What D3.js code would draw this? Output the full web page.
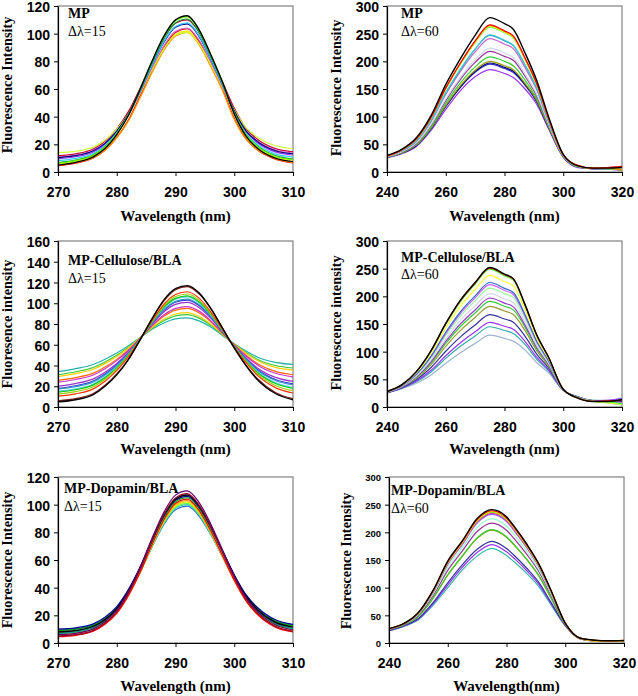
<!DOCTYPE html>
<html>
<head>
<meta charset="utf-8">
<script src="https://cdn.jsdelivr.net/npm/d3@7"></script>
<style>
html,body{margin:0;padding:0;background:#fff;}
svg{display:block;}
.tick text{font-family:"Liberation Sans",Arial,sans-serif;font-weight:bold;}
</style>
</head>
<body>
<svg id="chart" width="638" height="696"></svg>
<script>
// ---------- data ----------
const X15 = [270, 273, 276, 278, 280, 282, 284, 286, 288, 290, 292, 294, 296, 298, 300, 302, 304, 307, 310];
const X60 = [240, 245, 250, 255, 260, 265, 270, 275, 280, 283, 287, 291, 295, 300, 305, 310, 315, 320];

const ticks15 = [270, 280, 290, 300, 310];
const ticks60 = [240, 260, 280, 300, 320];
const yTicks120 = [0, 20, 40, 60, 80, 100, 120];
const yTicks160 = [0, 20, 40, 60, 80, 100, 120, 140, 160];
const yTicks300 = [0, 50, 100, 150, 200, 250, 300];

const panelNames = ["MP", "MP", "MP-Cellulose/BLA", "MP-Cellulose/BLA", "MP-Dopamin/BLA", "MP-Dopamin/BLA"];
const deltaLabels = ["Δλ=15", "Δλ=60", "Δλ=15", "Δλ=60", "Δλ=15", "Δλ=60"];
const yTitles = ["Fluorescence Intensity", "Fluorescence Intensity", "Fluoresence intensity", "Fluorescence intensity", "Fluorescence Intensity", "Fluorescence Intensity"];
const xTitles = ["Wavelength (nm)", "Wavelength (nm)", "Wavelength (nm)", "Wavelength (nm)", "Wavelength (nm)", "Wavelength(nm)"];

// Panel 1: MP, Δλ=15
const mp15Colors = ["#000000", "#66ff00", "#009933", "#33ccff", "#000080", "#9933ff", "#cc66cc", "#ccff33", "#cc0033", "#ff9900", "#ff0000", "#ffee00"];
const mp15Values = [
  [5, 7, 11, 17, 27, 41, 60, 80, 98, 110, 113, 103, 85, 65, 42, 26, 17, 10, 7.5],
  [6.4, 8.2, 12.1, 18, 27.8, 41.5, 60.1, 79.8, 97.5, 109.3, 112.2, 102.4, 84.7, 64.9, 42.8, 27.1, 18.3, 11.4, 8.9],
  [6.8, 8.6, 12.4, 18.2, 27.8, 41.2, 59.4, 78.8, 96.2, 107.8, 110.6, 101, 83.6, 64.2, 42.6, 27.2, 18.6, 11.8, 9.4],
  [8.2, 9.8, 13.4, 19, 28.2, 41, 58.4, 77.2, 94, 105.2, 107.8, 98.6, 81.8, 63.1, 42.7, 27.9, 19.7, 13.1, 10.8],
  [10.4, 11.8, 15.3, 20.7, 29.6, 42, 58.8, 77.2, 93.6, 104.6, 107, 98.1, 81.7, 63.2, 44.2, 29.8, 21.9, 15.4, 13.2],
  [9.5, 11, 14.5, 20.1, 29.1, 41.7, 58.8, 77.4, 93.9, 105, 107.5, 98.5, 81.9, 63.3, 43.7, 29.1, 21, 14.5, 12.3],
  [10.9, 12.2, 15.5, 20.8, 29.4, 41.2, 57.4, 75.3, 91.1, 101.7, 104, 95.4, 79.6, 61.8, 43.6, 29.7, 22.1, 15.8, 13.7],
  [14, 15, 18, 23, 31, 42, 57, 74, 89, 99, 101, 93, 78, 61, 45, 32, 25, 19, 17],
  [11.8, 13.1, 16.6, 22.2, 31.2, 43.8, 60.8, 79.6, 96.4, 107.6, 110, 101, 84.1, 65.1, 46.2, 31.6, 23.5, 16.9, 14.6],
  [5, 6.8, 10.3, 15.7, 24.6, 36.9, 53.9, 71.7, 87.7, 98.4, 101, 92.1, 76.2, 58.8, 38, 23.8, 15.9, 9.7, 6.8],
  [4.6, 6.4, 10.1, 15.6, 24.8, 37.6, 55.1, 73.4, 89.9, 100.9, 103.6, 94.4, 78.1, 60, 38.6, 23.9, 15.7, 9.3, 6.5],
  [5.9, 7.6, 11.2, 16.5, 25.4, 37.8, 54.7, 72.6, 88.7, 99.4, 102, 93.1, 77.2, 59.5, 39.1, 24.8, 16.9, 10.7, 8.5]
];

// Panel 2: MP, Δλ=60
const mp60Colors = ["#000000", "#ff0000", "#ff8000", "#ffff00", "#66ff33", "#33cccc", "#3399cc", "#cc66cc", "#d0d8e8", "#993399", "#33cc33", "#999900", "#000080", "#3333cc", "#9933ff"];
const mp60Values = [
  [30, 41, 62, 102, 158, 205, 247, 279, 268, 258, 215, 165, 100, 32, 11, 7, 7, 8],
  [29, 40, 60, 98.5, 152, 197, 237, 266, 255, 246, 206, 159, 97, 31, 12, 7, 8, 10],
  [29, 40, 59.6, 98, 151, 197, 236, 265, 254, 245, 205, 159, 96, 31, 11, 7, 7, 4],
  [29, 40, 59.4, 98, 151, 196, 235, 264, 253, 244, 204.5, 158, 96, 31, 11, 7, 7, 5],
  [29, 39.5, 59, 97, 150, 195, 234, 262, 251.5, 242, 203, 157, 96, 31, 10, 7, 6, 4],
  [28.5, 38.4, 56.7, 93, 143, 186, 222, 248, 238, 229, 193.5, 151, 92.5, 30, 10, 6, 6, 5],
  [28.5, 38.3, 56.5, 93, 143, 185, 222, 247, 237, 228.5, 193, 150.5, 92, 30, 10, 7, 7, 9],
  [28, 37.8, 55.5, 91, 140, 182, 217, 241, 231, 223, 188.6, 148, 91, 30, 11, 6, 8, 10],
  [27.6, 36.3, 52.6, 86, 132, 171, 203, 224, 215, 207, 177, 140, 87, 29, 10, 7, 7, 6],
  [27.3, 35.8, 51.6, 84.6, 129, 167.5, 198, 218, 209, 202, 173, 137, 85.6, 28.7, 9, 6, 6, 4],
  [27, 35, 50, 81.7, 124, 161, 190, 208, 200, 192, 166, 132.6, 83.3, 28, 10, 7, 6, 5],
  [26.6, 34.3, 48.6, 79.4, 120, 156, 184, 200, 192, 185, 160, 129, 81.5, 28, 9, 6, 6, 3],
  [26.5, 34, 48, 78.5, 119, 154, 181.6, 197, 189, 182, 158, 127.5, 80.8, 27.6, 10, 6, 7, 8],
  [26.4, 33.9, 47.7, 78, 118, 153, 180, 195, 187, 180, 157, 126.6, 80.3, 27.5, 9, 6, 7, 7],
  [26, 33, 46, 75, 113, 147, 172, 185, 178, 171, 150, 122, 78, 27, 8, 6, 5, 3]
];

// Panel 3: MP-Cellulose/BLA, Δλ=15
const cell15Colors = ["#000000", "#8b2323", "#ff3300", "#99cc00", "#00cc00", "#66ccff", "#3399cc", "#3333cc", "#9933cc", "#cc33cc", "#ff6600", "#ffcc00", "#33cc33", "#20b2aa"];
const cell15Values = [
  [5, 7, 12, 20, 31, 46, 65, 85, 103, 114, 117, 110, 95, 76, 57, 40, 26, 13, 7],
  [6, 8, 13, 21, 32, 46, 65, 85, 102, 113, 116, 109, 95, 76, 57, 40, 27, 14, 8],
  [10.5, 12.7, 17.5, 24.9, 35, 48.5, 65.4, 83.1, 98.8, 108.5, 111.1, 104.9, 91.6, 74.7, 57.8, 42.7, 30.2, 18.7, 13.5],
  [12.5, 14.8, 19.5, 26.8, 36.5, 49.4, 65.5, 82.4, 97.3, 106.5, 108.9, 103, 90.3, 74.2, 58, 43.6, 31.7, 20.8, 15.8],
  [14.3, 16.6, 21.3, 28.3, 37.7, 50.2, 65.6, 81.8, 96, 104.7, 107.1, 101.4, 89.2, 73.8, 58.3, 44.5, 33, 22.6, 17.9],
  [15.2, 17.5, 22.2, 29.1, 38.4, 50.6, 65.7, 81.5, 95.3, 103.8, 106.1, 100.5, 88.7, 73.5, 58.4, 44.9, 33.7, 23.5, 18.9],
  [17.2, 19.6, 24.2, 30.9, 39.8, 51.5, 65.8, 80.8, 93.8, 101.8, 104, 98.7, 87.4, 73.1, 58.7, 45.9, 35.2, 25.6, 21.3],
  [18, 20.5, 25, 31.7, 40.5, 51.9, 65.9, 80.5, 93.1, 101, 103, 97.8, 86.9, 72.8, 58.8, 46.3, 35.9, 26.5, 22.3],
  [20.1, 22.6, 27.1, 33.5, 41.9, 52.8, 66, 79.8, 91.6, 98.9, 100.9, 96, 85.6, 72.4, 59.1, 47.3, 37.4, 28.6, 24.7],
  [23.9, 26.5, 30.9, 36.9, 44.7, 54.5, 66.3, 78.5, 88.7, 95.1, 96.8, 92.4, 83.3, 71.4, 59.6, 49.1, 40.3, 32.5, 29.1],
  [25.6, 28.3, 32.6, 38.5, 45.9, 55.2, 66.4, 77.9, 87.4, 93.4, 95, 90.8, 82.2, 71, 59.8, 49.9, 41.6, 34.3, 31.1],
  [29.4, 32.2, 36.4, 41.8, 48.6, 56.9, 66.7, 76.6, 84.5, 89.6, 91, 87.3, 79.9, 70.1, 60.4, 51.8, 44.5, 38.2, 35.6],
  [31.1, 34, 38.1, 43.4, 49.9, 57.7, 66.8, 76, 83.2, 87.9, 89.1, 85.7, 78.8, 69.7, 60.6, 52.6, 45.8, 40, 37.6],
  [34, 37, 41, 46, 52, 59, 67, 75, 81, 85, 86, 83, 77, 69, 61, 54, 48, 43, 41]
];

// Panel 4: MP-Cellulose/BLA, Δλ=60
const cell60Colors = ["#000000", "#ff0000", "#33ff33", "#ffff33", "#3366cc", "#cc66ff", "#99ff99", "#d0d8e8", "#9933cc", "#33cc33", "#999933", "#333399", "#9933ff", "#33aaaa", "#a0b4cc"];
const cell60Values = [
  [28, 40, 64, 102, 151, 193, 225, 252, 240, 232, 185, 130, 90, 32, 16, 10, 10, 13],
  [28, 39.9, 63.8, 101.6, 150.4, 192.2, 224.1, 251, 239.1, 231.1, 184.3, 129.6, 89.8, 32, 16, 10, 11, 12],
  [27.9, 39.8, 63.5, 100.9, 149.2, 190.6, 222.3, 249, 237.1, 229.2, 182.9, 128.8, 89.3, 32, 16.1, 10, 9, 6],
  [27.7, 39.2, 61.6, 96.9, 142.7, 182.1, 212.4, 238, 226.7, 219, 175.6, 124.3, 86.8, 31.8, 16.3, 10.2, 8, 5],
  [27.3, 38.5, 59.4, 92.3, 135.1, 172, 200.7, 225, 214.4, 207, 166.9, 119, 83.8, 31.6, 16.7, 10.4, 10, 14],
  [27.2, 38.2, 58.7, 90.8, 132.7, 168.9, 197.1, 221, 210.5, 203.3, 164.2, 117.3, 82.9, 31.5, 16.8, 10.5, 9, 8],
  [27.1, 37.9, 57.6, 88.7, 129.2, 164.2, 191.7, 215, 204.9, 197.8, 160.2, 114.9, 81.5, 31.4, 16.9, 10.6, 8, 4],
  [26.8, 37.3, 55.9, 85.1, 123.3, 156.4, 182.7, 205, 195.3, 188.5, 153.4, 110.8, 79.2, 31.2, 17.2, 10.8, 10, 7],
  [26.6, 36.8, 54.5, 82.2, 118.5, 150.2, 175.4, 197, 187.7, 181, 148, 107.5, 77.4, 31.1, 17.4, 10.9, 11, 12],
  [26.5, 36.5, 53.5, 80, 115, 145.5, 170, 191, 182, 175.5, 144, 105, 76, 31, 17.5, 11, 9, 5],
  [26.3, 36, 51.9, 76.7, 109.7, 138.5, 161.9, 182, 173.4, 167.1, 137.9, 101.3, 73.9, 30.9, 17.7, 11.1, 8, 4],
  [25.9, 35.1, 49.4, 71.3, 100.8, 126.8, 148.3, 167, 159.1, 153.2, 127.8, 95.2, 70.5, 30.6, 18.1, 11.4, 10, 10],
  [25.6, 34.3, 47, 66.3, 92.6, 116, 135.8, 153, 145.9, 140.4, 118.5, 89.5, 67.3, 30.4, 18.4, 11.6, 12, 15],
  [25.4, 33.9, 45.6, 63.4, 87.9, 109.7, 128.5, 145, 138.3, 132.9, 113.1, 86.2, 65.4, 30.2, 18.6, 11.8, 11, 14],
  [25, 33, 43, 58, 79, 98, 115, 130, 124, 119, 103, 80, 62, 30, 19, 12, 12, 17]
];

// Panel 5: MP-Dopamin/BLA, Δλ=15
const dop15Colors = ["#660066", "#990033", "#000000", "#009999", "#000099", "#00aa00", "#ff0000", "#ff9900", "#dddd00", "#66ff33", "#33cccc", "#3366cc"];
const dop15Values = [
  [6, 7, 10.2, 15.4, 23.7, 37.2, 54.9, 75.7, 94.4, 106.9, 110, 101.7, 86.1, 67.3, 48.6, 33, 22.5, 13.2, 9.5],
  [5, 6, 9.1, 14.3, 22.5, 35.9, 53.4, 74, 92.6, 104.9, 108, 99.8, 84.3, 65.7, 47.2, 31.7, 21.4, 12.1, 8.5],
  [8, 9, 12, 16.9, 24.8, 37.7, 54.5, 74.3, 92.2, 104, 107, 99.1, 84.2, 66.4, 48.6, 33.8, 23.9, 15, 11.5],
  [7, 8, 11, 16, 24, 37, 54, 74, 92, 104, 107, 99, 84, 66, 48, 33, 23, 14, 10.5],
  [10, 11, 13.8, 18.6, 26.3, 38.8, 55.1, 74.3, 91.6, 103.1, 106, 98.3, 83.9, 66.7, 49.4, 35, 25.5, 16.8, 13.5],
  [9, 10, 12.8, 17.6, 25.3, 37.8, 54.1, 73.3, 90.6, 102.1, 105, 97.3, 82.9, 65.7, 48.4, 34, 24.5, 15.8, 12.5],
  [4.5, 5.5, 8.5, 13.5, 21.4, 34.4, 51.3, 71.2, 89.1, 101, 104, 96, 81.1, 63.2, 45.3, 30.4, 20.4, 11.5, 8],
  [5, 6, 8.9, 13.8, 21.7, 34.4, 51.1, 70.7, 88.3, 100.1, 103, 95.2, 80.5, 62.8, 45.2, 30.5, 20.7, 11.9, 8.5],
  [6, 7, 9.8, 14.6, 22.3, 34.8, 51.1, 70.3, 87.6, 99.1, 102, 94.3, 79.9, 62.7, 45.4, 31, 21.5, 12.8, 9.5],
  [7, 7.9, 10.8, 15.5, 23, 35.2, 51.2, 70, 86.9, 98.2, 101, 93.5, 79.4, 62.5, 45.7, 31.6, 22.2, 13.8, 10.4],
  [8, 8.9, 11.7, 16.3, 23.6, 35.6, 51.2, 69.6, 86.2, 97.2, 100, 92.6, 78.8, 62.4, 45.9, 32.1, 23, 14.7, 11.4],
  [9.5, 10.4, 13.1, 17.6, 24.7, 36.4, 51.6, 69.5, 85.6, 96.3, 99, 91.8, 78.4, 62.4, 46.4, 33, 24.1, 16.1, 12.9]
];

// Panel 6: MP-Dopamin/BLA, Δλ=60
const dop60Colors = ["#000000", "#ff0000", "#ffff00", "#66ff33", "#ff9900", "#cc33cc", "#9966ff", "#99ffcc", "#993399", "#33cc33", "#999900", "#333399", "#9933ff", "#33bbaa"];
const dop60Values = [
  [26, 35, 55, 95, 148, 185, 225, 241, 228, 208, 178, 143, 97, 36, 9, 5, 4, 4],
  [25.9, 34.9, 54.6, 94.2, 146.7, 183.5, 223.1, 239, 226, 206.2, 176.5, 141.9, 96.2, 35.9, 9, 5, 4, 5],
  [25.8, 34.8, 54.5, 93.9, 146, 182.8, 222.1, 238.1, 225.1, 205.4, 175.8, 141.3, 95.9, 35.8, 9, 4, 4, 4],
  [25.8, 34.7, 54.3, 93.5, 145.3, 182, 221.2, 237.1, 224.1, 204.5, 175, 140.7, 95.5, 35.7, 9, 5, 4, 5],
  [25.7, 34.7, 54.1, 93.1, 144.7, 181.3, 220.3, 236.2, 223.2, 203.7, 174.3, 140.2, 95.1, 35.7, 8, 4, 3, 3],
  [25.6, 34.5, 53.7, 92.4, 143.3, 179.9, 218.4, 234.2, 221.2, 201.9, 172.9, 139, 94.4, 35.5, 9, 5, 4, 4],
  [25.5, 34.4, 53.4, 91.6, 142, 178.4, 216.5, 232.3, 219.3, 200.1, 171.4, 137.9, 93.6, 35.4, 8, 4, 4, 4],
  [25.1, 33.8, 51.9, 88.6, 136.7, 172.5, 209, 224.5, 211.5, 193.1, 165.5, 133.3, 90.6, 34.8, 9, 4, 3, 3],
  [24.6, 33.3, 50.5, 85.6, 131.3, 166.6, 201.4, 216.7, 203.7, 186.1, 159.6, 128.8, 87.6, 34.3, 8, 4, 4, 5],
  [23.9, 32.4, 48.3, 81.1, 123.3, 157.8, 190, 205, 192, 175.6, 150.8, 121.9, 83.1, 33.4, 8, 5, 4, 4],
  [23.9, 32.4, 48.1, 80.7, 122.7, 157, 189.1, 204, 191, 174.7, 150, 121.4, 82.7, 33.4, 9, 4, 4, 4],
  [22.7, 30.9, 44.4, 72.9, 108.7, 141.6, 169.3, 183.7, 170.7, 156.4, 134.6, 109.4, 74.9, 31.9, 8, 4, 3, 3],
  [22.4, 30.5, 43.3, 70.6, 104.7, 137.1, 163.6, 177.8, 164.8, 151.1, 130.1, 106, 72.6, 31.5, 8, 4, 3, 4],
  [22, 30, 42, 68, 100, 132, 157, 171, 158, 145, 125, 102, 70, 31, 8, 4, 3, 3]
];

// ---------- layout ----------
const panels = [
  {xs: X15, vals: mp15Values, cols: mp15Colors, xd: [270, 310], xt: ticks15, yd: [0, 120], yt: yTicks120,
   l: 58, r: 293, t: 6, b: 172, yFont: 14, ytx: 7, yty: 85, xty: 221, labX: 68, labY: [18, 36]},
  {xs: X60, vals: mp60Values, cols: mp60Colors, xd: [240, 320], xt: ticks60, yd: [0, 300], yt: yTicks300,
   l: 387, r: 622, t: 6, b: 172, yFont: 14, ytx: 336, yty: 88, xty: 221, labX: 401, labY: [18, 36]},
  {xs: X15, vals: cell15Values, cols: cell15Colors, xd: [270, 310], xt: ticks15, yd: [0, 160], yt: yTicks160,
   l: 58, r: 293, t: 241, b: 407, yFont: 14, ytx: 7, yty: 324, xty: 454, labX: 68, labY: [265, 283]},
  {xs: X60, vals: cell60Values, cols: cell60Colors, xd: [240, 320], xt: ticks60, yd: [0, 300], yt: yTicks300,
   l: 387, r: 622, t: 241, b: 407, yFont: 14, ytx: 336, yty: 323, xty: 454, labX: 401, labY: [262, 279]},
  {xs: X15, vals: dop15Values, cols: dop15Colors, xd: [270, 310], xt: ticks15, yd: [0, 120], yt: yTicks120,
   l: 58, r: 293, t: 477, b: 643, yFont: 14, ytx: 7, yty: 560, xty: 691, labX: 64, labY: [493, 511]},
  {xs: X60, vals: dop60Values, cols: dop60Colors, xd: [240, 320], xt: ticks60, yd: [0, 300], yt: yTicks300,
   l: 389, r: 624, t: 477, b: 643, yFont: 9.5, ytx: 346, yty: 561, xty: 691, labX: 391, labY: [495, 513]}
];

const svg = d3.select("#chart");
const serif = '"Liberation Serif","Times New Roman",serif';

panels.forEach((p, i) => {
  const x = d3.scaleLinear().domain(p.xd).range([p.l, p.r]);
  const y = d3.scaleLinear().domain(p.yd).range([p.b, p.t]);
  const g = svg.append("g");

  // plot frame
  g.append("rect").attr("x", p.l).attr("y", p.t)
    .attr("width", p.r - p.l).attr("height", p.b - p.t)
    .attr("fill", "none").attr("stroke", "#808080").attr("stroke-width", 1.2);

  const clipId = "clip" + i;
  svg.append("clipPath").attr("id", clipId).append("rect")
    .attr("x", p.l).attr("y", p.t - 2).attr("width", p.r - p.l).attr("height", p.b - p.t + 2);

  const line = d3.line()
    .x((d, j) => x(p.xs[j]))
    .y(d => y(d))
    .curve(d3.curveMonotoneX);

  const order = p.vals.map((v, j) => j).reverse();
  const lg = g.append("g").attr("clip-path", `url(#${clipId})`);
  order.forEach(j => {
    lg.append("path")
      .attr("d", line(p.vals[j]))
      .attr("fill", "none")
      .attr("stroke", p.cols[j])
      .attr("stroke-width", p.cols[j] === "#000000" ? 1.4 : 1.2)
      .attr("stroke-linejoin", "round");
  });

  // axes
  const xAxis = d3.axisBottom(x).tickValues(p.xt).tickFormat(d3.format("d"))
    .tickSize(4).tickSizeOuter(0).tickPadding(11);
  const gx = g.append("g").attr("transform", `translate(0,${p.b})`).call(xAxis);
  gx.selectAll(".tick text").attr("font-size", 14).attr("fill", "#000");
  gx.select(".domain").attr("stroke", "#000").attr("stroke-width", 1.2);
  gx.selectAll(".tick line").attr("stroke", "#000");

  const yAxis = d3.axisLeft(y).tickValues(p.yt).tickFormat(d3.format("d"))
    .tickSize(4).tickSizeOuter(0).tickPadding(4);
  const gy = g.append("g").attr("transform", `translate(${p.l},0)`).call(yAxis);
  gy.selectAll(".tick text").attr("font-size", p.yFont).attr("fill", "#000").attr("dy", "0.4em");
  gy.select(".domain").attr("stroke", "#000").attr("stroke-width", 1.2);
  gy.selectAll(".tick line").attr("stroke", "#000");

  // axis titles
  g.append("text")
    .attr("transform", `translate(${p.ytx},${p.yty}) rotate(-90)`)
    .attr("dy", "0.35em")
    .attr("text-anchor", "middle")
    .attr("font-family", serif).attr("font-weight", "bold").attr("font-size", 14.3)
    .text(yTitles[i]);
  g.append("text")
    .attr("x", (p.l + p.r) / 2).attr("y", p.xty)
    .attr("text-anchor", "middle")
    .attr("font-family", serif).attr("font-weight", "bold").attr("font-size", 15)
    .text(xTitles[i]);

  // labels
  g.append("text").attr("x", p.labX).attr("y", p.labY[0])
    .attr("font-family", serif).attr("font-weight", "bold").attr("font-size", 14)
    .text(panelNames[i]);
  g.append("text").attr("x", p.labX).attr("y", p.labY[1])
    .attr("font-family", serif).attr("font-size", 14)
    .text(deltaLabels[i]);
});
</script>
</body>
</html>
